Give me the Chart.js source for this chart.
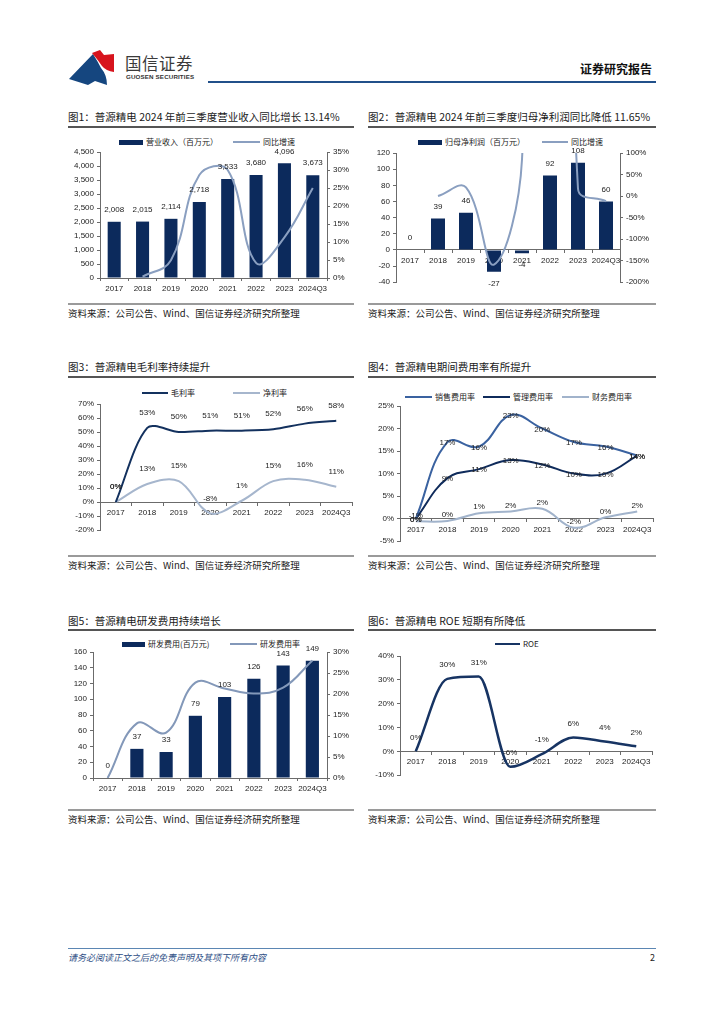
<!DOCTYPE html>
<html>
<head>
<meta charset="utf-8">
<script src="https://cdn.jsdelivr.net/npm/chart.js@4.4.1/dist/chart.umd.min.js"></script>
<style>
body { margin:0; background:#fff; width:724px; height:1024px; position:relative; overflow:hidden;
       font-family:"Noto Sans CJK SC","Noto Sans",sans-serif; }
canvas { position:absolute; }
.tx { position:absolute; white-space:nowrap; line-height:1; color:#222; }
.bx { position:absolute; }
</style>
</head>
<body>
<svg class="bx" style="left:66px;top:48px" width="52" height="40" viewBox="66 48 52 40">
  <path d="M69,79 L93,54 Q98,62 101,68 Q107,75 107,85 L95,81 L88,85 Z" fill="#15467f"/>
  <path d="M92,53 L100,50 L104,55 L114,54 L114,72 Q106,71 102,66 Q98,60 92,53 Z" fill="#d7141d"/>
</svg>

<script>
const years = ['2017', '2018', '2019', '2020', '2021', '2022', '2023', '2024Q3'];
// 图1
const revenue = [2008, 2015, 2114, 2718, 3533, 3680, 4096, 3673];
const revenueYoy = [null, 0.35, 4.9, 28.6, 30.0, 4.2, 11.3, 25.0];
// 图2
const netProfit = [0, 39, 46, -27, -4, 92, 108, 60];
const netProfitYoy = [null, 0, 20, -159, 85, 2400, 17, -12];
// 图3
const grossMargin = [0, 53, 50, 51, 51, 52, 56, 58];
const netMargin = [0, 13, 15, -8, 1, 15, 16, 11];
// 图4
const sellRate = [0, 17, 16, 23, 20, 17, 16, 14];
const adminRate = [0, 9, 11, 13, 12, 10, 10, 14];
const finRate = [-0.6, -0.5, 1.2, 1.6, 2.2, -2.0, 0.3, 1.6];
// 图5
const rdExpense = [0, 37, 33, 79, 103, 126, 143, 149];
const rdRate = [0, 13, 10.8, 22.7, 21.3, 20.1, 21.5, 28];
// 图6
const roe = [0, 30.4, 31.4, -6.5, -1.2, 5.8, 4.1, 2.1];

const NAVY = '#0c2a5c';
const AXIS = '#6b6b6b';
Chart.defaults.font.family = '"Liberation Sans", Arial, sans-serif';
Chart.defaults.font.size = 8;
Chart.defaults.color = '#222';

function text(s, x, y, size, extra) {
  const d = document.createElement('div');
  d.className = 'tx';
  d.textContent = s;
  d.style.left = x + 'px';
  d.style.top = (y - size / 2) + 'px';
  d.style.fontSize = size + 'px';
  if (extra) Object.assign(d.style, extra);
  document.body.appendChild(d);
  return d;
}
function box(x, y, w, h, color) {
  const d = document.createElement('div');
  d.className = 'bx';
  Object.assign(d.style, { left: x + 'px', top: y + 'px', width: w + 'px', height: h + 'px', background: color });
  document.body.appendChild(d);
}
function legend(y, items) {
  items.forEach(it => {
    const h = it.bar ? 5 : 2;
    box(it.x, y - h / 2, it.w, h, it.color);
    text(it.label, it.x + it.w + 3, y, 8);
  });
}

// 数据标签
function labels(specs) {
  return {
    id: 'vlabels',
    afterDatasetsDraw(chart) {
      const ctx = chart.ctx;
      ctx.save();
      ctx.font = '8px "Liberation Sans", Arial, sans-serif';
      ctx.fillStyle = '#222';
      ctx.textAlign = 'center';
      ctx.textBaseline = 'middle';
      specs.forEach(s => {
        const meta = chart.getDatasetMeta(s.ds);
        const data = chart.data.datasets[s.ds].data;
        meta.data.forEach((el, i) => {
          const v = data[i];
          if (v == null) return;
          const dy = typeof s.dy === 'function' ? s.dy(v) : s.dy;
          ctx.fillText(s.fmt(v), el.x, el.y + dy);
        });
      });
      ctx.restore();
    }
  };
}

// g: plot area + margins; axisAtZero: x axis drawn on the 0 line
function make(g, datasets, scales, plugins, axisAtZero) {
  const c = document.createElement('canvas');
  const w = g.lw + (g.R - g.L) + g.rw;
  const h = g.pt + (g.B - g.T) + g.pb;
  c.width = w; c.height = h;
  c.style.left = (g.L - g.lw) + 'px';
  c.style.top = (g.T - g.pt) + 'px';
  document.body.appendChild(c);
  const xs = {
    type: 'category',
    offset: true,
    grid: { offset: true, drawOnChartArea: false, tickLength: 3, color: AXIS },
    border: { color: AXIS },
    ticks: { padding: 3, maxRotation: 0, autoSkip: false }
  };
  if (axisAtZero) xs.position = { y: 0 };
  else xs.afterFit = s => { s.height = g.pb; };
  const all = { x: xs };
  Object.keys(scales).forEach(k => {
    const sc = scales[k];
    all[k] = Object.assign({
      grid: { drawOnChartArea: false, tickLength: 3, color: AXIS },
      border: { color: AXIS },
      afterFit: s => { s.width = sc.position === 'right' ? g.rw : g.lw; }
    }, sc);
  });
  new Chart(c, {
    data: { labels: years, datasets },
    options: {
      responsive: false,
      animation: false,
      layout: { padding: { top: g.pt, bottom: axisAtZero ? g.pb : 0, left: 0, right: all.y1 ? 0 : g.rw } },
      plugins: { legend: { display: false }, tooltip: { enabled: false } },
      scales: all
    },
    plugins
  });
}
const pct = v => v + '%';
const lineDs = (data, color, yAxisID, width, extra) => Object.assign({
  type: 'line', data, borderColor: color, borderWidth: width || 2, pointRadius: 0,
  tension: 0.4, yAxisID: yAxisID || 'y', order: 0, fill: false
}, extra || {});
const barDs = (data, bp) => ({
  type: 'bar', data, backgroundColor: NAVY, barPercentage: bp, categoryPercentage: 1, yAxisID: 'y', order: 1
});

// ---------- 页眉 ----------
text('国信证券', 125, 63, 16.5, { color: '#3a3a3a', letterSpacing: '0.5px' });
text('GUOSEN SECURITIES', 126, 77, 6.2, { color: '#333', fontFamily: '"Liberation Sans",Arial', fontWeight: 'bold', letterSpacing: '0.15px' });
text('证券研究报告', 580, 69, 12, { fontWeight: 'bold', color: '#111' });
box(208, 81, 448, 2, '#21508a');

// ---------- 标题/来源 ----------
const titles = [
  ['图1：普源精电 2024 年前三季度营业收入同比增长 13.14%', 68, 117],
  ['图2：普源精电 2024 年前三季度归母净利润同比降低 11.65%', 368, 117],
  ['图3：普源精电毛利率持续提升', 68, 367],
  ['图4：普源精电期间费用率有所提升', 368, 367],
  ['图5：普源精电研发费用持续增长', 68, 621],
  ['图6：普源精电 ROE 短期有所降低', 368, 621]
];
titles.forEach(t => text(t[0], t[1], t[2], 10.5, { color: '#1a1a1a' }));
[[126], [376], [629]].forEach(r => { box(68, r[0], 286, 1.5, '#555'); box(368, r[0], 288, 1.5, '#555'); });
const src = '资料来源：公司公告、Wind、国信证券经济研究所整理';
[[303, 314], [555, 566], [809, 820]].forEach(r => {
  box(68, r[0], 286, 1.5, '#9a9a9a'); box(368, r[0], 288, 1.5, '#9a9a9a');
  text(src, 68, r[1], 9.5); text(src, 368, r[1], 9.5);
});

// ---------- 图1 ----------
legend(142, [
  { x: 119, w: 24, bar: true, color: NAVY, label: '营业收入（百万元）' },
  { x: 233, w: 27, color: '#8a9fc0', label: '同比增速' }
]);
make({ L: 100, T: 152, R: 327, B: 278, lw: 40, rw: 32, pt: 12, pb: 18 },
  [barDs(revenue, 0.46), lineDs(revenueYoy, '#8a9fc0', 'y1')],
  {
    y: { position: 'left', min: 0, max: 4500, ticks: { stepSize: 500, callback: v => v.toLocaleString('en-US') } },
    y1: { position: 'right', min: 0, max: 35, ticks: { stepSize: 5, callback: pct } }
  },
  [labels([{ ds: 0, dy: -12, fmt: v => v.toLocaleString('en-US') }])], false);

// ---------- 图2 ----------
legend(142, [
  { x: 418, w: 24, bar: true, color: NAVY, label: '归母净利润（百万元）' },
  { x: 542, w: 26, color: '#8a9fc0', label: '同比增速' }
]);
make({ L: 396, T: 153, R: 620, B: 284, lw: 36, rw: 36, pt: 12, pb: 6 },
  [barDs(netProfit, 0.5), lineDs(netProfitYoy, '#8a9fc0', 'y1')],
  {
    y: { position: 'left', min: -40, max: 120, ticks: { stepSize: 20 } },
    y1: { position: 'right', min: -200, max: 100, ticks: { stepSize: 50, callback: pct } }
  },
  [labels([{ ds: 0, dy: v => (v >= 0 ? -12 : 12), fmt: v => String(v) }])], true);

// ---------- 图3 ----------
legend(393, [
  { x: 142, w: 26, color: '#13315e', label: '毛利率' },
  { x: 233, w: 27, color: '#a6b6cd', label: '净利率' }
]);
make({ L: 100, T: 404, R: 352, B: 532, lw: 40, rw: 4, pt: 14, pb: 6 },
  [lineDs(grossMargin, '#13315e', 'y', 2, { tension: 0.3 }), lineDs(netMargin, '#a6b6cd', 'y', 2, { tension: 0.35 })],
  { y: { position: 'left', min: -20, max: 70, ticks: { stepSize: 10, callback: pct } } },
  [labels([{ ds: 0, dy: -15, fmt: v => Math.round(v) + '%' }, { ds: 1, dy: -15, fmt: v => Math.round(v) + '%' }])], true);

// ---------- 图4 ----------
legend(397, [
  { x: 405, w: 27, color: '#3a62a0', label: '销售费用率' },
  { x: 483, w: 27, color: '#0f2b5b', label: '管理费用率' },
  { x: 562, w: 27, color: '#a1b3cb', label: '财务费用率' }
]);
make({ L: 400, T: 406, R: 653, B: 543, lw: 40, rw: 4, pt: 12, pb: 6 },
  [lineDs(sellRate, '#3a62a0'), lineDs(adminRate, '#0f2b5b'), lineDs(finRate, '#a1b3cb')],
  { y: { position: 'left', min: -5, max: 25, ticks: { stepSize: 5, callback: pct } } },
  [labels([
    { ds: 0, dy: 1, fmt: v => Math.round(v) + '%' },
    { ds: 1, dy: 1, fmt: v => Math.round(v) + '%' },
    { ds: 2, dy: -6, fmt: v => (Math.round(v) || 0) + '%' }
  ])], true);

// ---------- 图5 ----------
legend(644, [
  { x: 122, w: 23, bar: true, color: NAVY, label: '研发费用(百万元)' },
  { x: 230, w: 27, color: '#8398b9', label: '研发费用率' }
]);
make({ L: 93, T: 652, R: 327, B: 778, lw: 33, rw: 32, pt: 12, pb: 18 },
  [barDs(rdExpense, 0.45), lineDs(rdRate, '#8398b9', 'y1')],
  {
    y: { position: 'left', min: 0, max: 160, ticks: { stepSize: 20 } },
    y1: { position: 'right', min: 0, max: 30, ticks: { stepSize: 5, callback: pct } }
  },
  [labels([{ ds: 0, dy: -12, fmt: v => String(v) }])], false);

// ---------- 图6 ----------
legend(644, [{ x: 495, w: 25, color: '#173463', label: 'ROE' }]);
make({ L: 400, T: 656, R: 652, B: 777, lw: 40, rw: 4, pt: 12, pb: 6 },
  [lineDs(roe, '#173463', 'y', 2.5, { cubicInterpolationMode: 'monotone' })],
  { y: { position: 'left', min: -10, max: 40, ticks: { stepSize: 10, callback: pct } } },
  [labels([{ ds: 0, dy: -14, fmt: v => Math.round(v) + '%' }])], true);

// ---------- 页脚 ----------
box(68, 948, 588, 1, '#5b86b3');
text('请务必阅读正文之后的免责声明及其项下所有内容', 68, 957, 9, { fontStyle: 'italic', color: '#2f4f86' });
text('2', 650, 957, 9, { color: '#222' });
</script>
</body>
</html>
